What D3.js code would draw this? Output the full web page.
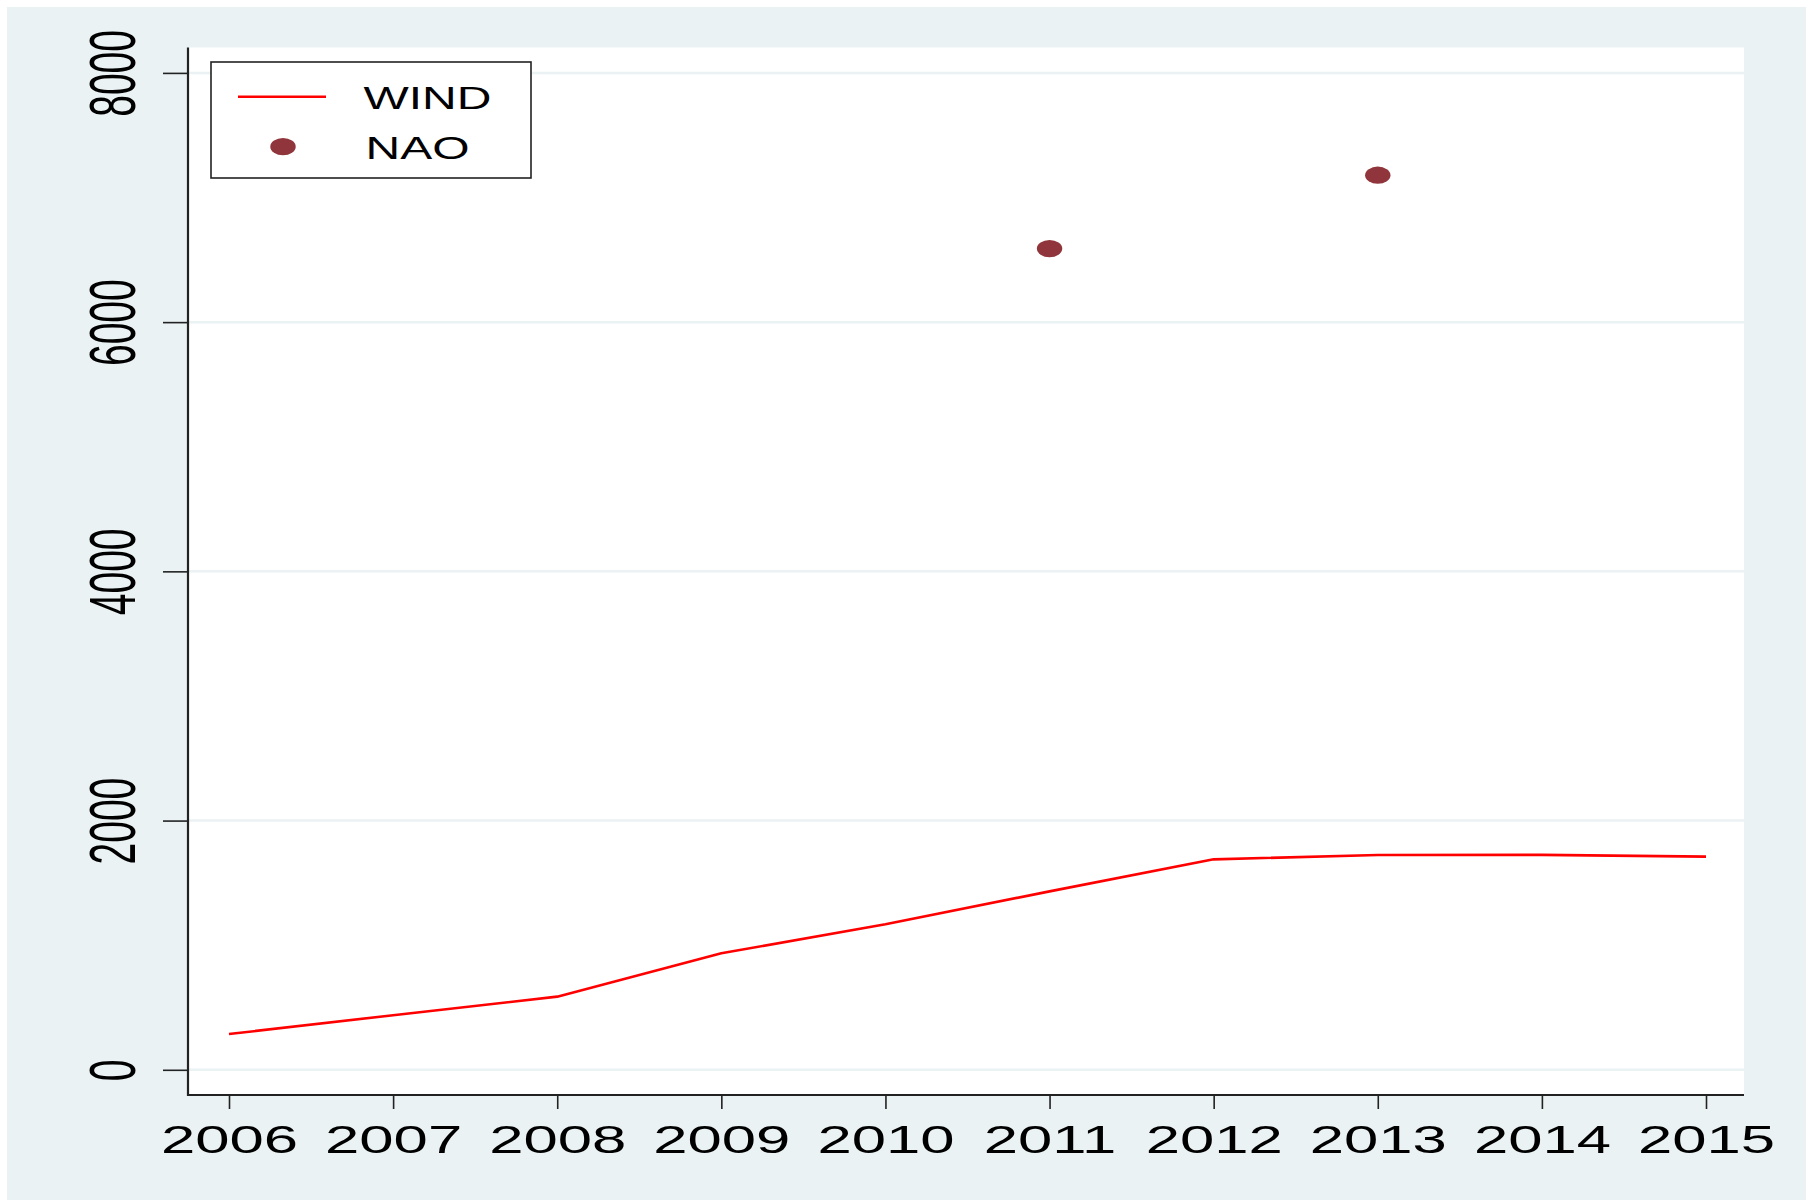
<!DOCTYPE html>
<html>
<head>
<meta charset="utf-8">
<script src="https://cdn.jsdelivr.net/npm/d3@7"></script>
<style>
  html, body { margin: 0; padding: 0; background: #ffffff; }
  svg { display: block; }
</style>
</head>
<body>
<svg id="chart" width="1813" height="1202"></svg>
<script>
// Yearly series
const years = [2006, 2007, 2008, 2009, 2010, 2011, 2012, 2013, 2014, 2015];
const windValues = [287, 438, 587, 935, 1168, 1432, 1689, 1724, 1725, 1711];
const naoYears = [2011, 2013];
const naoValues = [6590, 7179];
const yTicks = [0, 2000, 4000, 6000, 8000];
const seriesNames = ["WIND", "NAO"];

const W = 1813, H = 1202;
const plot = { left: 188, right: 1744, top: 47.5, bottom: 1095 };
const fontFamily = "'Liberation Sans', Arial, Helvetica, sans-serif";
const bg = "#eaf2f3";
const lineRed = "#ff0000";
const maroon = "#90353b";
const stretch = 1.58;   // horizontally widened lettering

const svg = d3.select("#chart");

// outer background and white plot region
svg.append("rect").attr("x", 7).attr("y", 7).attr("width", 1799).attr("height", 1193).attr("fill", bg);
svg.append("rect").attr("x", plot.left).attr("y", plot.top)
  .attr("width", plot.right - plot.left).attr("height", plot.bottom - plot.top)
  .attr("fill", "#ffffff");

const x = d3.scaleLinear().domain([2006, 2015]).range([229, 1706]);
const y = d3.scaleLinear().domain([0, 8000]).range([1069.8, 72.9]);

// horizontal grid
svg.append("g").selectAll("line").data(yTicks).join("line")
  .attr("x1", plot.left).attr("x2", plot.right)
  .attr("y1", d => y(d)).attr("y2", d => y(d))
  .attr("stroke", bg).attr("stroke-width", 2.5);

// y axis
const yAxis = svg.append("g").attr("transform", `translate(${plot.left},0)`)
  .call(d3.axisLeft(y).tickValues(yTicks).tickSize(25).tickSizeOuter(0).tickFormat(d3.format("d")));
yAxis.select(".domain").remove();
yAxis.selectAll(".tick line").attr("stroke", "#222").attr("stroke-width", 1.6);
yAxis.selectAll(".tick text")
  .attr("x", null).attr("dy", null).attr("y", null)
  .attr("text-anchor", "middle")
  .attr("transform", `translate(${135 - plot.left},0) scale(1.64,1) rotate(-90)`)
  .attr("font-family", fontFamily).attr("font-size", 39).attr("fill", "#000");

// x axis
const xAxis = svg.append("g").attr("transform", `translate(0,${plot.bottom})`)
  .call(d3.axisBottom(x).tickValues(years).tickSize(14).tickSizeOuter(0).tickFormat(d3.format("d")));
xAxis.select(".domain").remove();
xAxis.selectAll(".tick line").attr("stroke", "#222").attr("stroke-width", 1.6);
xAxis.selectAll(".tick text")
  .attr("y", null).attr("dy", null)
  .attr("text-anchor", "middle")
  .attr("transform", `translate(0,${1153 - plot.bottom}) scale(${stretch},1)`)
  .attr("font-family", fontFamily).attr("font-size", 39).attr("fill", "#000");

// axis lines
svg.append("line").attr("x1", plot.left).attr("x2", plot.left)
  .attr("y1", plot.top).attr("y2", plot.bottom + 1)
  .attr("stroke", "#222").attr("stroke-width", 2.2);
svg.append("line").attr("x1", plot.left).attr("x2", plot.right)
  .attr("y1", plot.bottom).attr("y2", plot.bottom)
  .attr("stroke", "#222").attr("stroke-width", 2.2);

// WIND line
const windData = years.map((yr, i) => ({ yr, v: windValues[i] }));
svg.append("path").datum(windData)
  .attr("fill", "none").attr("stroke", lineRed).attr("stroke-width", 2.6)
  .attr("stroke-linejoin", "round")
  .attr("d", d3.line().x(d => x(d.yr)).y(d => y(d.v)));

// NAO markers
const naoData = naoYears.map((yr, i) => ({ yr, v: naoValues[i] }));
svg.append("g").selectAll("ellipse").data(naoData).join("ellipse")
  .attr("cx", d => x(d.yr)).attr("cy", d => y(d.v))
  .attr("rx", 12.7).attr("ry", 8.6).attr("fill", maroon);

// legend
const lg = svg.append("g");
lg.append("rect").attr("x", 211).attr("y", 62).attr("width", 320).attr("height", 116)
  .attr("fill", "#ffffff").attr("stroke", "#222").attr("stroke-width", 1.6);
lg.append("line").attr("x1", 238).attr("x2", 326).attr("y1", 96.7).attr("y2", 96.7)
  .attr("stroke", lineRed).attr("stroke-width", 2.6);
lg.append("ellipse").attr("cx", 283).attr("cy", 146.7).attr("rx", 12.7).attr("ry", 8.6).attr("fill", maroon);
lg.selectAll("text").data(seriesNames).join("text")
  .attr("transform", (d, i) => `translate(${i === 0 ? 363.5 : 365.5},${i === 0 ? 109.3 : 159}) scale(1.5,1)`)
  .attr("font-family", fontFamily).attr("font-size", 32).attr("fill", "#000")
  .text(d => d);
</script>
</body>
</html>
